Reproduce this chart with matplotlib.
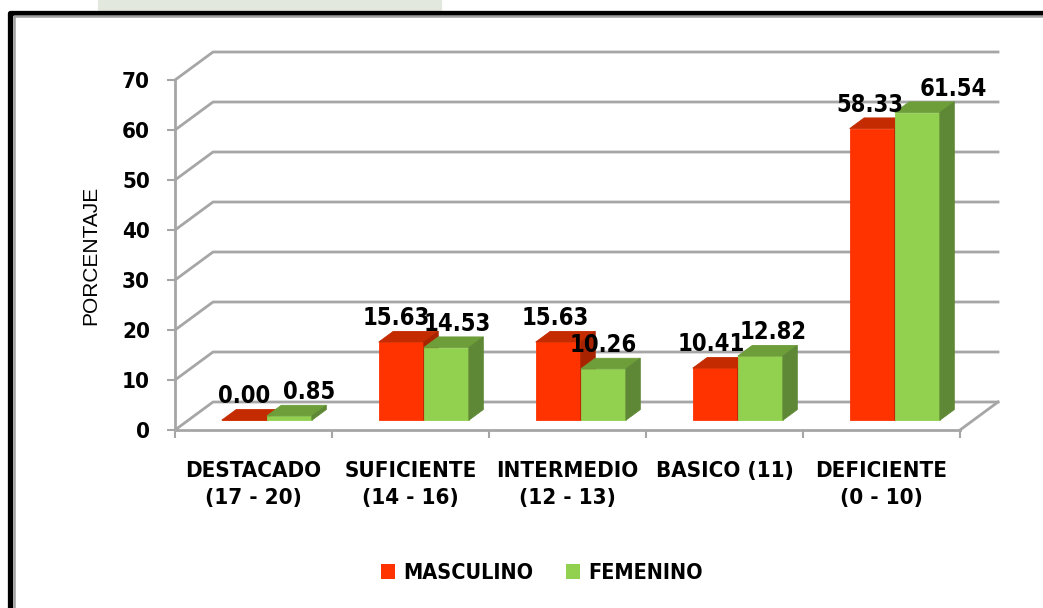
"""Rendimiento por sexo: columnas agrupadas con perspectiva."""
import matplotlib.pyplot as plt
import matplotlib.patches as patches
from matplotlib.lines import Line2D
from matplotlib import font_manager

categories = ['DESTACADO\n(17 - 20)', 'SUFICIENTE\n(14 - 16)', 'INTERMEDIO\n(12 - 13)',
              'BASICO (11)', 'DEFICIENTE\n(0 - 10)']
masculino = [0.00, 15.63, 15.63, 10.41, 58.33]
femenino = [0.85, 14.53, 10.26, 12.82, 61.54]
series_names = ['MASCULINO', 'FEMENINO']
yticks = [0, 10, 20, 30, 40, 50, 60, 70]

# label nudges (points) where labels would collide
fem_nudge = [14, 8, 0, 9, 26]
mas_nudge = [0, -4, -2, -3, -2]

names = {f.name for f in font_manager.fontManager.ttflist}
NARROW = ['Liberation Sans Narrow'] if 'Liberation Sans Narrow' in names else []
NARROW += ['DejaVu Sans']
plt.rcParams['font.family'] = NARROW
plt.rcParams['font.stretch'] = 'condensed'

W, H = 1043, 608
fig = plt.figure(figsize=(W / 100, H / 100), dpi=100)
fig.patch.set_facecolor('white')

# front plane of the plot box, in pixels
x0, x1, y_base, y_top = 175, 960, 430, 80
ax = fig.add_axes([x0 / W, (H - y_base) / H, (x1 - x0) / W, (y_base - y_top) / H])
ax.set_xlim(-0.5, 4.5)
ax.set_ylim(0, 70)
ax.patch.set_alpha(0)

# oblique depth of the box (full depth) in data units
DX = 38 / 157
DY = 28 / 5
Z0, Z1 = 0.35, 0.73   # bar front / back depth
BW = 0.287            # width of one bar

GRID = '#a6a6a6'

def proj(x, v, z):
    return x + z * DX, v + z * DY

# back wall gridlines and floor
for v in yticks:
    pts = [proj(-0.5, v, 0), proj(-0.5, v, 1), proj(4.5, v, 1)]
    ax.add_line(Line2D([p[0] for p in pts], [p[1] for p in pts], color=GRID,
                       lw=2, clip_on=False, zorder=1))
fx, fy = zip(proj(4.5, 0, 0), proj(4.5, 0, 1))
ax.add_line(Line2D(fx, fy, color=GRID, lw=2, clip_on=False, zorder=1))


def box(xl, xr, v, front, top, side):
    faces = [
        ([proj(xl, 0, Z0), proj(xr, 0, Z0), proj(xr, v, Z0), proj(xl, v, Z0)], front),
        ([proj(xl, v, Z0), proj(xr, v, Z0), proj(xr, v, Z1), proj(xl, v, Z1)], top),
        ([proj(xr, 0, Z0), proj(xr, 0, Z1), proj(xr, v, Z1), proj(xr, v, Z0)], side),
    ]
    for verts, c in faces:
        ax.add_patch(patches.Polygon(verts, closed=True, facecolor=c, edgecolor=c,
                                     lw=0.6, clip_on=False, zorder=3))


red = ('#ff3300', '#c42b00', '#a82300')
green = ('#92d050', '#6e9e3a', '#5e8835')

lbl = dict(fontsize=17, fontweight='bold', ha='center', va='baseline',
           textcoords='offset points', zorder=5, annotation_clip=False)
for i, (m, f) in enumerate(zip(masculino, femenino)):
    box(i - BW, i, m, *red)
    box(i, i + BW, f, *green)
    mx, my = proj(i - BW / 2, m, Z1)
    ax.annotate(f'{m:.2f}', xy=(mx - (Z1 - Z0) * DX, my), xytext=(mas_nudge[i], 4.5), **lbl)
    gx, gy = proj(i + BW / 2, f, Z1)
    ax.annotate(f'{f:.2f}', xy=(gx - (Z1 - Z0) * DX, gy), xytext=(fem_nudge[i], 4.5), **lbl)

# axes
for s in ['top', 'right']:
    ax.spines[s].set_visible(False)
for s in ['left', 'bottom']:
    ax.spines[s].set_color(GRID)
    ax.spines[s].set_linewidth(2)
ax.set_yticks(yticks)
ax.set_yticklabels([str(t) for t in yticks], fontsize=16, fontweight='bold')
ax.tick_params(axis='y', length=6, width=1.5, color=GRID, pad=12)
ax.set_xticks([i - 0.5 for i in range(6)])
ax.set_xticklabels([])
ax.set_xticks(range(5), minor=True)
ax.set_xticklabels(categories, minor=True, fontsize=16, fontweight='bold', linespacing=1.45)
ax.tick_params(axis='x', which='major', length=6, width=1.5, color=GRID)
ax.tick_params(axis='x', which='minor', length=0, pad=22)
ax.set_ylabel('PORCENTAJE', fontsize=15, family=['Liberation Sans', 'DejaVu Sans'],
              fontstretch='normal', labelpad=16)

handles = [patches.Patch(facecolor=red[0], edgecolor='none'),
           patches.Patch(facecolor=green[0], edgecolor='none')]
fig.legend(handles, series_names, loc='center', bbox_to_anchor=(542 / W, (H - 573) / H),
           ncol=2, frameon=False, handlelength=0.65, handleheight=0.65, handletextpad=0.4,
           columnspacing=1.5,
           prop={'family': NARROW, 'weight': 'bold', 'size': 15.5, 'stretch': 'condensed'})

# faint emblem peeking above the frame
fig.patches.append(patches.FancyBboxPatch((100 / W, (H - 10) / H), 340 / W, 14 / H,
                                          boxstyle='round,pad=0.002', transform=fig.transFigure,
                                          facecolor='#e3e8df', edgecolor='none', zorder=0))

# outer frame
fig.add_artist(Line2D([9.5 / W, 9.5 / W, 1.0], [0, (H - 12.5) / H, (H - 12.5) / H],
                      transform=fig.transFigure, color='black', lw=3.8))
fig.add_artist(Line2D([13.5 / W, 13.5 / W, 1.0], [0, (H - 16) / H, (H - 16) / H],
                      transform=fig.transFigure, color='#a0a0a0', lw=1.8))

fig.savefig('out.png', dpi=100)
